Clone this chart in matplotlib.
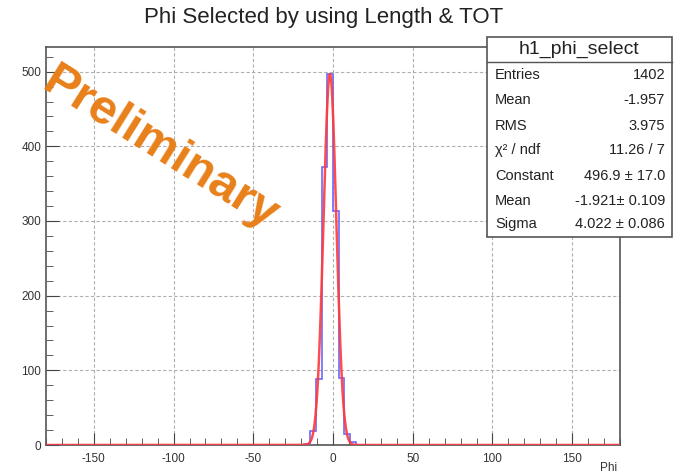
import matplotlib.pyplot as plt
import numpy as np
from matplotlib.patches import Rectangle
from matplotlib.ticker import MultipleLocator

plt.rcParams['font.family'] = ['Liberation Sans', 'DejaVu Sans']
plt.rcParams['axes.unicode_minus'] = False

# histogram: 100 bins of 3.6 over [-180, 180], only the central bins are non-zero
bin_edges = np.linspace(-180, 180, 101)
nonzero_bins = {45: 2, 46: 19, 47: 89, 48: 372, 49: 497, 50: 314, 51: 90, 52: 15, 53: 4}
counts = np.zeros(100)
for idx, val in nonzero_bins.items():
    counts[idx] = val

# gaussian fit parameters (from the stats box)
fit_const = 496.9
fit_mean = -1.921
fit_sigma = 4.022

stats_labels = ["Entries", "Mean", "RMS", "\u03c7\u00b2 / ndf", "Constant", "Mean", "Sigma"]
stats_values = ["1402", "-1.957", "3.975", "11.26 / 7", "496.9 \u00b1 17.0",
                "-1.921\u00b1 0.109", "4.022 \u00b1 0.086"]

W, H = 676, 476
fig = plt.figure(figsize=(W / 100, H / 100), dpi=100)
ax = fig.add_axes([46 / W, 1 - 445 / H, (620 - 46) / W, (445 - 47) / H])

ax.stairs(counts, bin_edges, color="#6a6aff", lw=1.2, zorder=3)
xf = np.linspace(-180, 180, 1000)
yf = fit_const * np.exp(-0.5 * ((xf - fit_mean) / fit_sigma) ** 2)
ax.plot(xf, yf, color="#ff3a3a", lw=1.8, alpha=0.9, zorder=4)

ax.set_xlim(-180, 180)
ax.set_ylim(0, 533)
ax.xaxis.set_major_locator(MultipleLocator(50))
ax.xaxis.set_minor_locator(MultipleLocator(10))
ax.yaxis.set_major_locator(MultipleLocator(100))
ax.yaxis.set_minor_locator(MultipleLocator(20))
ax.tick_params(which="both", direction="in", top=False, right=False,
               labelsize=8.5, labelcolor="#333333", color="#444444")
ax.tick_params(which="major", length=9)
ax.tick_params(which="minor", length=5)
ax.tick_params(axis="x", pad=6)
ax.grid(True, which="major", ls=(0, (3, 2)), color="#b0b0b0", lw=0.8)
for s in ax.spines.values():
    s.set_color("#555555")
    s.set_linewidth(1.2)

fig.text(0.478, 1 - 18 / H, "Phi Selected by using Length & TOT", ha="center",
         va="center", fontsize=16, color="#222222")
fig.text(617 / W, 1 - 468 / H, "Phi", ha="right", va="center", fontsize=8.5, color="#333333")

ax.text(0.022, 0.97, "Preliminary", transform=ax.transAxes, rotation=-32,
        rotation_mode="anchor", ha="left", va="top", fontsize=35.5,
        fontweight="bold", color="#e8801a", zorder=6)

# stats box
bx0, by0, bx1, by1 = 487, 37, 672, 237
fig.add_artist(Rectangle((bx0 / W, 1 - by1 / H), (bx1 - bx0) / W, (by1 - by0) / H,
                         transform=fig.transFigure, facecolor="white",
                         edgecolor="#555555", lw=1.2, zorder=10))
fig.add_artist(plt.Line2D([bx0 / W, bx1 / W], [1 - 62 / H, 1 - 62 / H],
                          transform=fig.transFigure, color="#555555", lw=1, zorder=11))
fig.text((bx0 + bx1) / 2 / W, 1 - 49 / H, "h1_phi_select", ha="center", va="center",
         fontsize=14, color="#222222", zorder=12)
row_y = [75, 100, 126, 150, 176, 201, 224]
for lab, val, yy in zip(stats_labels, stats_values, row_y):
    fig.text(495 / W, 1 - yy / H, lab, ha="left", va="center", fontsize=10.5,
             color="#222222", zorder=12)
    fig.text(665 / W, 1 - yy / H, val, ha="right", va="center", fontsize=10.5,
             color="#222222", zorder=12)

fig.savefig("out.png", dpi=100)
